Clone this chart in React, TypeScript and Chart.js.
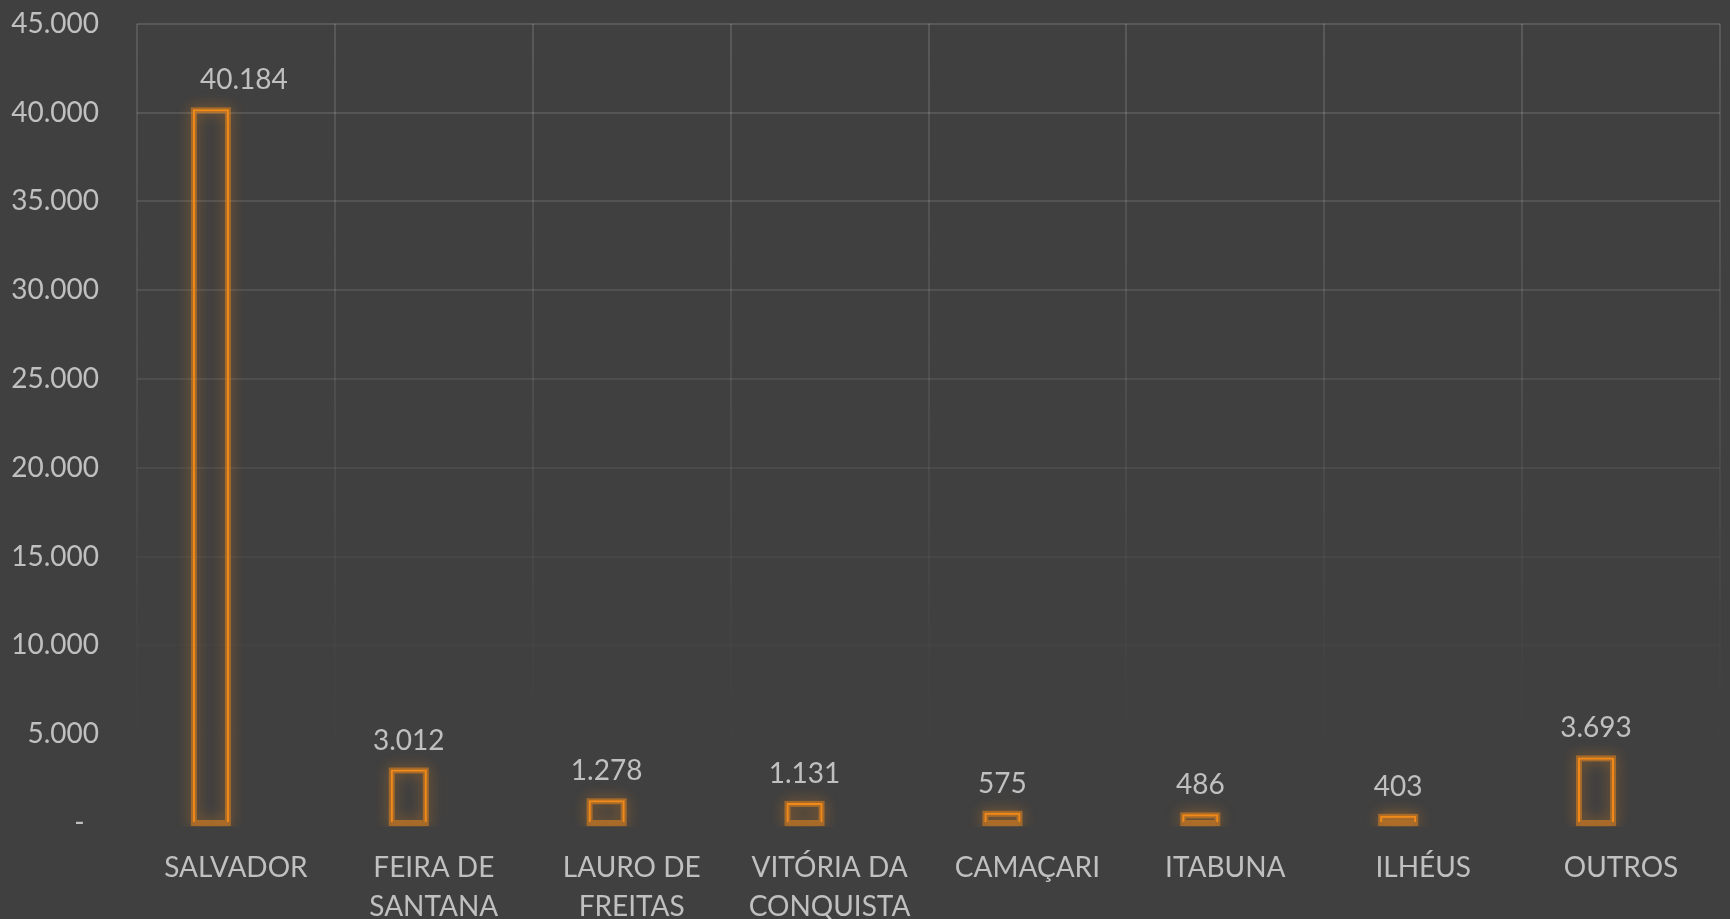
import React, { useEffect, useRef } from "react";
import { Chart, registerables } from "chart.js";

Chart.register(...registerables);

const categories: (string | string[])[] = [
  "SALVADOR",
  ["FEIRA DE", "SANTANA"],
  ["LAURO DE", "FREITAS"],
  ["VITÓRIA DA", "CONQUISTA"],
  "CAMAÇARI",
  "ITABUNA",
  "ILHÉUS",
  "OUTROS",
];
const values: number[] = [40184, 3012, 1278, 1131, 575, 486, 403, 3693];
// empty companion series (the reference groups bars as if a 2nd series existed)
const emptySeries: (number | null)[] = [null, null, null, null, null, null, null, null];
const yMin = 0;
const yMax = 45000;
const yStep = 5000;

const FONT = "Lato, 'Open Sans', sans-serif";
const TEXT = "#c0c0c0";
const ORANGE = "#f28a1a";

const fmt = (v: number) => {
  if (v === 0) return "-  ";
  return String(Math.round(v)).replace(/\B(?=(\d{3})+(?!\d))/g, ".");
};

function gridGradient(chart: any) {
  const area = chart.chartArea;
  if (!area) return "rgba(255,255,255,0.12)";
  const g = chart.ctx.createLinearGradient(0, area.top, 0, area.bottom);
  g.addColorStop(0, "rgba(255,255,255,0.13)");
  g.addColorStop(0.45, "rgba(255,255,255,0.075)");
  g.addColorStop(0.8, "rgba(255,255,255,0.012)");
  g.addColorStop(1, "rgba(255,255,255,0.0)");
  return g;
}

const glowPlugin = {
  id: "glow",
  beforeDatasetsDraw(chart: any) {
    const meta = chart.getDatasetMeta(0);
    const ctx = chart.ctx;
    const a = chart.chartArea;
    ctx.save();
    ctx.beginPath();
    ctx.rect(a.left, a.top - 30, a.right - a.left, a.bottom - a.top + 34);
    ctx.clip();
    meta.data.forEach((el: any) => {
      const p = el.getProps(["x", "y", "base", "width"], true);
      const left = p.x - p.width / 2;
      const top = Math.min(p.y, p.base);
      const h = Math.abs(p.base - p.y);
      ctx.shadowColor = "rgba(242,138,26,0.85)";
      ctx.shadowBlur = 14;
      ctx.strokeStyle = "rgba(242,138,26,0.5)";
      ctx.lineWidth = 6;
      ctx.strokeRect(left + 1, top + 1, p.width - 2, h);
    });
    ctx.restore();
  },
};

const labelPlugin = {
  id: "valueLabels",
  afterDatasetsDraw(chart: any, _args: any, opts: any) {
    const meta = chart.getDatasetMeta(0);
    const ctx = chart.ctx;
    const shifts = (opts && opts.shifts) || {};
    ctx.save();
    ctx.font = `28px ${FONT}`;
    ctx.fillStyle = TEXT;
    ctx.textAlign = "center";
    ctx.textBaseline = "alphabetic";
    meta.data.forEach((el: any, i: number) => {
      const p = el.getProps(["x", "y"], true);
      const v = chart.data.datasets[0].data[i];
      ctx.fillText(fmt(v), p.x + (shifts[i] || 0), p.y - 20);
    });
    ctx.restore();
  },
};

export default function App() {
  const ref = useRef<HTMLCanvasElement | null>(null);

  useEffect(() => {
    if (!ref.current) return;
    const chart = new Chart(ref.current, {
      type: "bar",
      data: {
        labels: categories,
        datasets: [
          {
            data: values,
            backgroundColor: "rgba(0,0,0,0)",
            borderColor: ORANGE,
            borderWidth: 2,
            categoryPercentage: 0.506,
            barPercentage: 0.72,
          },
          {
            data: emptySeries,
            backgroundColor: "rgba(0,0,0,0)",
            borderWidth: 0,
            categoryPercentage: 0.506,
            barPercentage: 0.72,
          },
        ],
      },
      options: {
        responsive: false,
        animation: false,
        devicePixelRatio: 1,
        layout: { padding: { left: 0, right: 10, top: 0, bottom: 0 } },
        plugins: {
          legend: { display: false },
          tooltip: { enabled: false },
          valueLabels: { shifts: { 0: 33 } },
        } as any,
        scales: {
          x: {
            grid: {
              color: (c: any) => gridGradient(c.chart),
              lineWidth: 2,
              drawTicks: false,
              offset: true,
            },
            border: { display: false },
            ticks: {
              color: TEXT,
              font: { family: FONT, size: 28, lineHeight: 1.4 },
              padding: 25,
              maxRotation: 0,
              autoSkip: false,
            },
            afterFit: (s: any) => {
              s.height = 96;
            },
          },
          y: {
            min: yMin,
            max: yMax,
            grid: {
              color: (c: any) => gridGradient(c.chart),
              lineWidth: 2,
              drawTicks: false,
            },
            border: { display: false },
            ticks: {
              stepSize: yStep,
              color: TEXT,
              font: { family: FONT, size: 28 },
              padding: 38,
              callback: (v: any) => fmt(Number(v)),
            },
            afterFit: (s: any) => {
              s.width = 137;
            },
          },
        },
      },
      plugins: [glowPlugin, labelPlugin],
    });
    return () => chart.destroy();
  }, []);

  return (
    <div
      style={{
        position: "fixed",
        left: 0,
        top: 0,
        width: 1730,
        height: 919,
        overflow: "hidden",
        background: "#404040",
      }}
    >
      <canvas
        ref={ref}
        width={1730}
        height={950}
        style={{ display: "block", position: "absolute", left: 0, top: -31 }}
      />
    </div>
  );
}
